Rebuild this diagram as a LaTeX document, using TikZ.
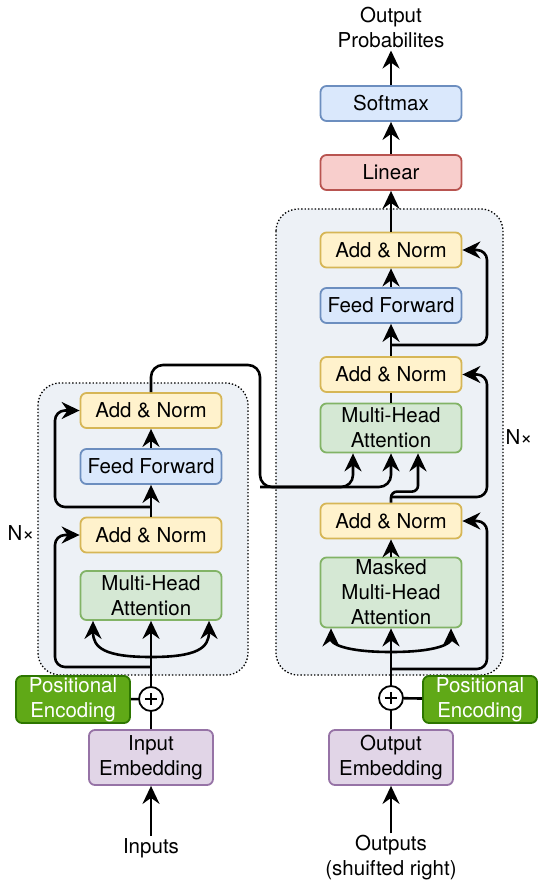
\documentclass[tikz,border=0pt]{standalone}
\usepackage{fontspec}
\setmainfont{TeX Gyre Heros}
\usepackage{xcolor}
\usepackage{tikz}
\usetikzlibrary{arrows.meta}
\usetikzlibrary{calc}
\definecolor{yelfill}{HTML}{FFF2CC}
\definecolor{yeldraw}{HTML}{D6B656}
\definecolor{bluefill}{HTML}{DAE8FC}
\definecolor{bluedraw}{HTML}{6C8EBF}
\definecolor{grnfill}{HTML}{D5E8D4}
\definecolor{grndraw}{HTML}{82B366}
\definecolor{redfill}{HTML}{F8CECC}
\definecolor{reddraw}{HTML}{B85450}
\definecolor{purfill}{HTML}{E1D5E7}
\definecolor{purdraw}{HTML}{9673A6}
\definecolor{pefill}{HTML}{60A917}
\definecolor{pedraw}{HTML}{2D7600}
\definecolor{stackfill}{HTML}{EDF1F6}
\tikzstyle{blk}=[draw,rounded corners=6pt,line width=1.8pt,minimum width=141pt,minimum height=35pt,inner sep=0pt,align=center]
\tikzstyle{addnorm}=[blk,fill=yelfill,draw=yeldraw]
\tikzstyle{ffwd}=[blk,fill=bluefill,draw=bluedraw]
\tikzstyle{attn}=[blk,fill=grnfill,draw=grndraw,minimum height=49pt]
\tikzstyle{emb}=[blk,fill=purfill,draw=purdraw,minimum width=124pt,minimum height=55pt]
\tikzstyle{posenc}=[blk,fill=pefill,draw=pedraw,text=white,minimum width=114pt,minimum height=47pt]
\tikzstyle{plus}=[circle,draw,line width=1.8pt,minimum size=24pt,fill=white,inner sep=0pt,
  path picture={\draw[line width=1.8pt] ($(path picture bounding box.center)+(-6pt,0)$) -- ++(12pt,0)
    ($(path picture bounding box.center)+(0,-6pt)$) -- ++(0,12pt);}]
\tikzstyle{stack}=[draw=black,fill=stackfill,rounded corners=22pt,line width=1.3pt,dash pattern=on 1.4pt off 2pt]
\tikzstyle{wire}=[line width=2.6pt]
\tikzstyle{flow}=[wire,-{Stealth[length=18pt,width=17pt,inset=6pt]}]
\begin{document}
\begin{tikzpicture}[x=1pt,y=-1pt,font=\fontsize{20.5}{25}\selectfont,inner sep=2pt]
\useasboundingbox (0,0) rectangle (550,890);
\draw[stack] (38,383) rectangle (248,675);
\draw[stack] (276,209) rectangle (503,675);
% encoder
\node[addnorm] (encAN2) at (151,410.5) {Add \& Norm};
\node[ffwd] (encFF) at (151,466.5) {Feed Forward};
\node[addnorm] (encAN1) at (151,535) {Add \& Norm};
\node[attn] (encMHA) at (151,595.5) {Multi-Head\\Attention};
\node[plus] (encPlus) at (151,699) {};
\node[posenc] (encPE) at (73,699.5) {Positional\\Encoding};
\node[emb] (encEmb) at (151,757.5) {Input\\Embedding};
\node (inputs) at (151,848) {Inputs};
\node (encN) at (21,533) {N×};
% decoder
\node[addnorm] (decAN3) at (391,250) {Add \& Norm};
\node[ffwd] (decFF) at (391,305.5) {Feed Forward};
\node[addnorm] (decAN2) at (391,374.5) {Add \& Norm};
\node[attn] (decMHA) at (391,428) {Multi-Head\\Attention};
\node[addnorm] (decAN1) at (391,521) {Add \& Norm};
\node[attn,minimum height=70pt] (decMMHA) at (391,592.5) {Masked\\Multi-Head\\Attention};
\node[plus] (decPlus) at (391,698) {};
\node[posenc] (decPE) at (480,699.5) {Positional\\Encoding};
\node[emb] (decEmb) at (391,757.5) {Output\\Embedding};
\node[align=center] (outputs) at (391,858) {Outputs\\(shuifted right)};
\node (decN) at (519,437) {N×};
\node[blk,fill=redfill,draw=reddraw] (linear) at (391,172.5) {Linear};
\node[ffwd] (softmax) at (391,103.5) {Softmax};
\node[align=center] (probs) at (391,28) {Output\\Probabilites};
\coordinate (encFork) at (151,657);
\coordinate (encRes1) at (151,667);
\coordinate (encRes2) at (151,507);
\coordinate (kv) at (260,487);
\coordinate (decFork) at (391,652);
\coordinate (decRes1) at (391,669);
\coordinate (decRes2) at (391,497);
\coordinate (decRes3) at (391,345);
\draw[flow] (inputs) -- (encEmb);
\draw[wire] (encEmb) -- (encPlus);
\draw[wire] (encPE) -- (encPlus);
\draw[flow] (encPlus) -- (encMHA);
\draw[flow] (encFork) .. controls (105,657) and (93,648) .. ($(encMHA.south)+(-58,0)$);
\draw[flow] (encFork) .. controls (197,657) and (209,648) .. ($(encMHA.south)+(58,0)$);
\draw[flow,rounded corners=10pt] (encRes1) -- ++(-96,0) |- (encAN1.west);
\draw[flow] (encAN1) -- (encFF);
\draw[flow,rounded corners=10pt] (encRes2) -- ++(-96,0) |- (encAN2.west);
\draw[flow] (encFF) -- (encAN2);
\draw[flow,rounded corners=12pt] (encAN2.north) |- (260,365) -- (kv) -| (decMHA.south);
\draw[flow,rounded corners=12pt] (kv) -| ($(decMHA.south)+(-38,0)$);
\draw[flow] (outputs) -- (decEmb);
\draw[wire] (decEmb) -- (decPlus);
\draw[wire] (decPE) -- (decPlus);
\draw[flow] (decPlus) -- (decMMHA);
\draw[flow] (decFork) .. controls (343,652) and (331,643) .. ($(decMMHA.south)+(-60,0)$);
\draw[flow] (decFork) .. controls (439,652) and (451,643) .. ($(decMMHA.south)+(60,0)$);
\draw[flow,rounded corners=10pt] (decRes1) -- ++(96,0) |- (decAN1.east);
\draw[flow] (decMMHA) -- (decAN1);
\draw[flow,rounded corners=6pt] (decAN1.north) -- ++(0,-11) -| ($(decMHA.south)+(27,0)$);
\draw[flow,rounded corners=10pt] (decRes2) -- ++(96,0) |- (decAN2.east);
\draw[wire] (decMHA) -- (decAN2);
\draw[flow] (decAN2) -- (decFF);
\draw[flow,rounded corners=10pt] (decRes3) -- ++(96,0) |- (decAN3.east);
\draw[flow] (decFF) -- (decAN3);
\draw[flow] (decAN3) -- (linear);
\draw[flow] (linear) -- (softmax);
\draw[flow] (softmax) -- (probs);
\end{tikzpicture}
\end{document}
